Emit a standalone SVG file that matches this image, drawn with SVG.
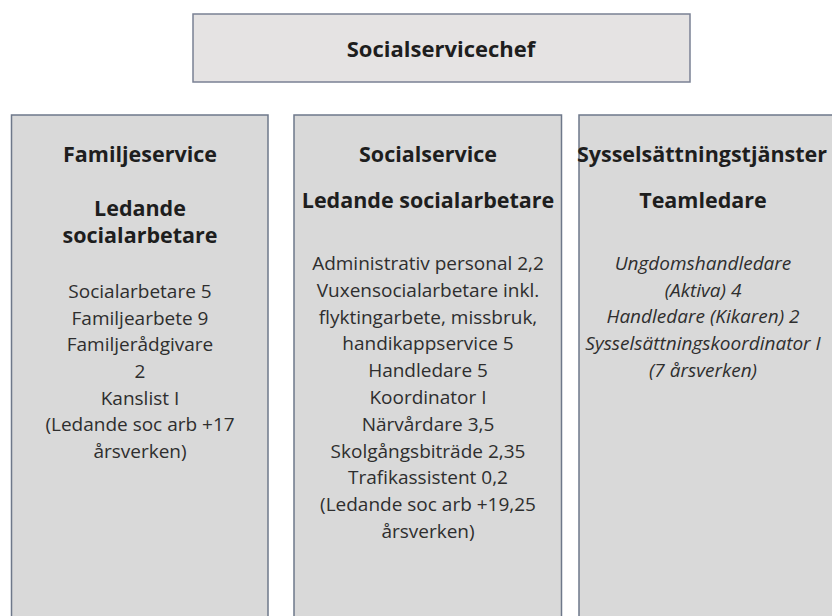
<svg xmlns="http://www.w3.org/2000/svg" width="832" height="616" viewBox="0 0 832 616">
<style>
.box{fill:#d9d9d9;stroke:#6e788a;stroke-width:1.5}
.top{fill:#e5e3e3;stroke:#7a8194;stroke-width:1.5}
text{font-family:"Open Sans","Noto Sans","Liberation Sans",sans-serif;text-anchor:middle}
.h{font-weight:bold;font-size:21.5px;fill:#1e1e1e}
.t{font-size:19px;fill:#2e2e2e}
.i{font-size:19px;fill:#2e2e2e;font-style:italic}
</style>
<rect width="832" height="616" fill="#ffffff"/>
<g id="connectors"/>
<g id="socialservicechef">
<rect class="top" x="193" y="14" width="497" height="68"/>
<text class="h" x="441" y="57" style="font-size:22px">Socialservicechef</text>
</g>
<g id="familjeservice">
<rect class="box" x="11.5" y="115" width="256.5" height="510"/>
<text class="h" x="140" y="162">Familjeservice</text>
<text class="h" x="140" y="216">Ledande</text>
<text class="h" x="140" y="243">socialarbetare</text>
<text class="t" x="140" y="298">Socialarbetare  5</text>
<text class="t" x="140" y="325">Familjearbete 9</text>
<text class="t" x="140" y="351">Familjerådgivare</text>
<text class="t" x="140" y="378">2</text>
<text class="t" x="140" y="405">Kanslist I</text>
<text class="t" x="140" y="431">(Ledande soc arb +17</text>
<text class="t" x="140" y="458">årsverken)</text>
</g>
<g id="socialservice">
<rect class="box" x="294" y="115" width="267.5" height="510"/>
<text class="h" x="428" y="162">Socialservice</text>
<text class="h" x="428" y="208">Ledande socialarbetare</text>
<text class="t" x="428" y="270">Administrativ personal 2,2</text>
<text class="t" x="428" y="297">Vuxensocialarbetare inkl.</text>
<text class="t" x="428" y="324">flyktingarbete, missbruk,</text>
<text class="t" x="428" y="350">handikappservice 5</text>
<text class="t" x="428" y="377">Handledare 5</text>
<text class="t" x="428" y="404">Koordinator I</text>
<text class="t" x="428" y="431">Närvårdare 3,5</text>
<text class="t" x="428" y="458">Skolgångsbiträde 2,35</text>
<text class="t" x="428" y="484">Trafikassistent 0,2</text>
<text class="t" x="428" y="511">(Ledande soc arb +19,25</text>
<text class="t" x="428" y="538">årsverken)</text>
</g>
<g id="sysselsattningstjanster">
<rect class="box" x="579" y="115" width="270" height="510"/>
<text class="h" x="702" y="162">Sysselsättningstjänster</text>
<text class="h" x="703" y="208">Teamledare</text>
<text class="i" x="703" y="270">Ungdomshandledare</text>
<text class="i" x="703" y="297">(Aktiva) 4</text>
<text class="i" x="703" y="323">Handledare (Kikaren) 2</text>
<text class="i" x="703" y="350">Sysselsättningskoordinator I</text>
<text class="i" x="703" y="377">(7 årsverken)</text>
</g>
</svg>
